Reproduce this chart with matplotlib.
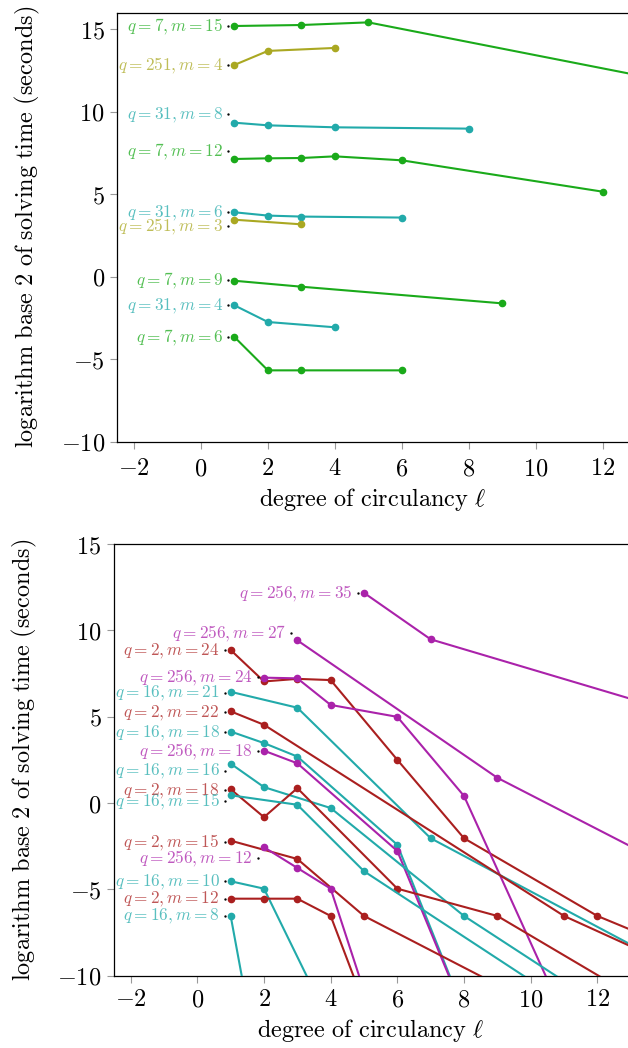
import matplotlib
matplotlib.use('Agg')
import matplotlib.pyplot as plt
from matplotlib.ticker import FuncFormatter

plt.rcParams['mathtext.fontset'] = 'cm'
plt.rcParams['font.family'] = 'serif'

GREEN = '#1aaa1a'
OLIVE = '#aaa822'
TEAL = '#22aaaa'
RED = '#aa1f1f'
MAGENTA = '#aa22aa'

# ---- top chart: q = 7, 31, 251 ----
top_names = ['q=7,m=15', 'q=251,m=4', 'q=31,m=8', 'q=7,m=12', 'q=31,m=6',
             'q=251,m=3', 'q=7,m=9', 'q=31,m=4', 'q=7,m=6']
top_colors = [GREEN, OLIVE, TEAL, GREEN, TEAL, OLIVE, GREEN, TEAL, GREEN]
top_x = [
    [1, 3, 5, 15],
    [1, 2, 4],
    [1, 2, 4, 8],
    [1, 2, 3, 4, 6, 12],
    [1, 2, 3, 6],
    [1, 3],
    [1, 3, 9],
    [1, 2, 4],
    [1, 2, 3, 6],
]
top_y = [
    [15.20, 15.26, 15.42, 11.44],
    [12.84, 13.69, 13.87],
    [9.34, 9.18, 9.06, 8.98],
    [7.14, 7.18, 7.20, 7.30, 7.06, 5.16],
    [3.91, 3.71, 3.65, 3.59],
    [3.46, 3.18],
    [-0.24, -0.60, -1.61],
    [-1.73, -2.74, -3.06],
    [-3.65, -5.67, -5.67, -5.67],
]
top_label_y = [15.20, 12.84, 9.85, 7.65, 3.91, 3.10, -0.20, -1.73, -3.65]

# ---- bottom chart: q = 2, 16, 256 ----
bot_names = ['q=256,m=35', 'q=256,m=27', 'q=2,m=24', 'q=256,m=24', 'q=16,m=21',
             'q=2,m=22', 'q=16,m=18', 'q=256,m=18', 'q=16,m=16', 'q=2,m=18',
             'q=16,m=15', 'q=2,m=15', 'q=256,m=12', 'q=16,m=10', 'q=2,m=12',
             'q=16,m=8']
bot_colors = [MAGENTA, MAGENTA, RED, MAGENTA, TEAL, RED, TEAL, MAGENTA, TEAL,
              RED, TEAL, RED, MAGENTA, TEAL, RED, TEAL]
bot_x = [
    [5, 7, 35],
    [3, 9, 27],
    [1, 2, 3, 4, 6, 8, 12, 24],
    [2, 3, 4, 6, 8, 12],
    [1, 3, 7, 21],
    [1, 2, 11, 22],
    [1, 2, 3, 6, 9],
    [2, 3, 6, 9],
    [1, 2, 4, 8, 16],
    [1, 2, 3, 6, 9, 18],
    [1, 3, 5, 15],
    [1, 3, 5, 15],
    [2, 3, 4, 6],
    [1, 2, 5],
    [1, 2, 3, 4, 6],
    [1, 2],
]
bot_y = [
    [12.17, 9.48, -6.6],
    [9.42, 1.46, -16.4],
    [8.86, 7.04, 7.19, 7.12, 2.50, -2.04, -6.54, -16.1],
    [7.26, 7.22, 5.68, 4.99, 0.41, -16.6],
    [6.44, 5.52, -2.04, -16.4],
    [5.31, 4.53, -6.54, -16.2],
    [4.14, 3.47, 2.69, -2.42, -16.9],
    [3.03, 2.30, -2.78, -16.8],
    [2.28, 0.92, -0.29, -6.54, -16.6],
    [0.80, -0.82, 0.86, -4.96, -6.54, -16.8],
    [0.45, -0.10, -3.95, -16.6],
    [-2.18, -3.24, -6.54, -16.5],
    [-2.56, -3.76, -4.96, -16.8],
    [-4.53, -4.96, -16.8],
    [-5.54, -5.54, -5.54, -6.54, -16.7],
    [-6.54, -17.0],
]
bot_label_y = [12.17, 9.83, 8.86, 7.29, 6.38, 5.25, 4.10, 3.0, 1.87, 0.74,
               0.12, -2.26, -3.19, -4.53, -5.54, -6.54]


def tex_label(name):
    q, m = name.split(',')
    return r'$q=%s,m=%s$' % (q[2:], m[2:])


def draw(ax, names, colors, xs, ys, label_y, ylim, xlim, xpad):
    for name, c, x, y, ly in zip(names, colors, xs, ys, label_y):
        ax.plot(x, y, color=c, lw=1.5, marker='o', ms=4.5, clip_on=True, zorder=3)
        dot_x = x[0] - 0.18
        ax.plot([dot_x], [ly], marker='o', ms=0.7, color='black', zorder=4)
        ax.annotate(tex_label(name), (dot_x, ly), xytext=(-5, 0),
                    textcoords='offset pixels', ha='right', va='center',
                    fontsize=12.4, color=c, alpha=0.75, annotation_clip=False)
    ax.set_xlim(*xlim)
    ax.set_ylim(*ylim)
    ax.set_xticks(range(-2, 13, 2))
    ax.set_yticks(range(-10, 16, 5))
    fmt = FuncFormatter(lambda v, p: r'$%d$' % v)
    ax.xaxis.set_major_formatter(fmt)
    ax.yaxis.set_major_formatter(fmt)
    ax.tick_params(direction='out', length=5, width=0.8, color='#999999',
                   labelsize=17.5, pad=4)
    ax.tick_params(axis='x', pad=xpad)
    ax.spines['right'].set_visible(False)
    for s in ['left', 'top', 'bottom']:
        ax.spines[s].set_linewidth(0.9)
    ax.set_xlabel(r'$\mathrm{degree\ of\ circulancy}\ \ell$', fontsize=17.5, labelpad=4)
    ax.set_ylabel(r'$\mathrm{logarithm\ base\ 2\ of\ solving\ time\ (seconds)}$',
                  fontsize=17.5, labelpad=13)


fig = plt.figure(figsize=(6.28, 10.48), dpi=100)
ax1 = fig.add_axes([117.3 / 628, 1 - 441.8 / 1048, 1 - 117.3 / 628, 429.0 / 1048])
ax2 = fig.add_axes([114.0 / 628, 1 - 975.7 / 1048, 1 - 114.0 / 628, 431.7 / 1048])

draw(ax1, top_names, top_colors, top_x, top_y, top_label_y, (-10, 16), (-2.5, 12.76), 6)
draw(ax2, bot_names, bot_colors, bot_x, bot_y, bot_label_y, (-10, 15), (-2.5, 12.92), 4)

fig.savefig('out.png', dpi=100)
